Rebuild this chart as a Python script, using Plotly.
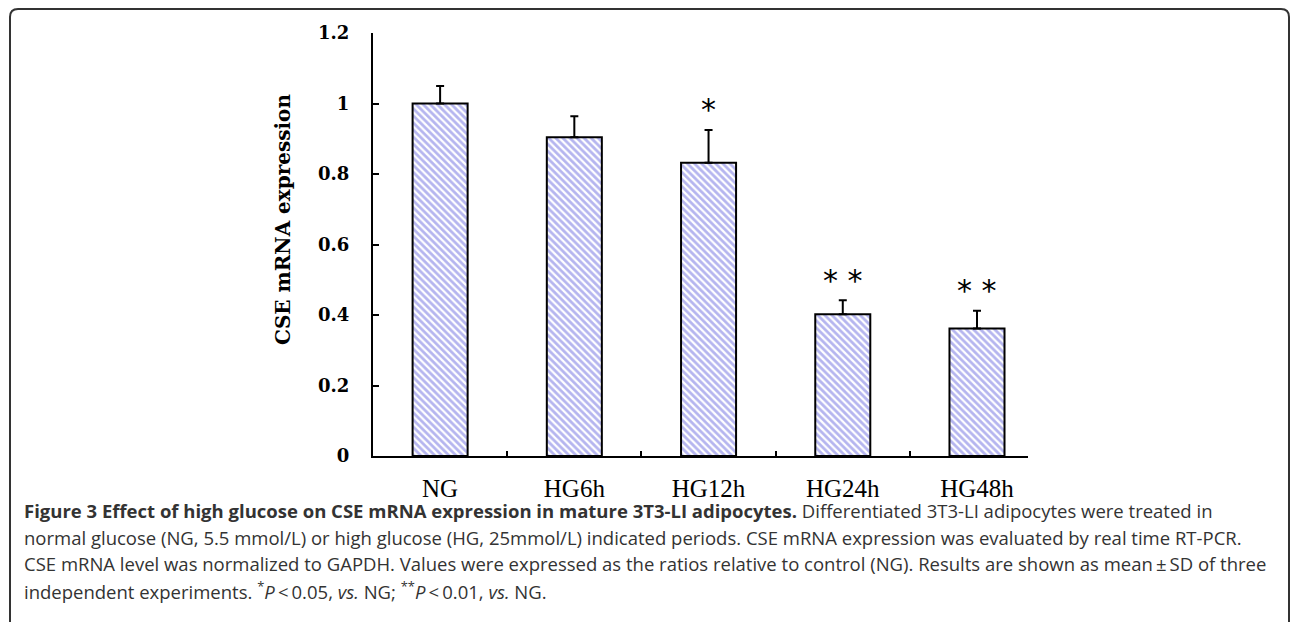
import plotly.graph_objects as go

# ---- data ----
categories = ["NG", "HG6h", "HG12h", "HG24h", "HG48h"]
values = [1.0, 0.904, 0.832, 0.402, 0.362]
errors = [0.05, 0.06, 0.093, 0.04, 0.05]
stars = ["", "", "*", "* *", "* *"]
y_ticks = [0, 0.2, 0.4, 0.6, 0.8, 1.0, 1.2]
y_title = "CSE mRNA expression"
caption_lines = [
    "<b>Figure 3 Effect of high glucose on CSE mRNA expression in mature 3T3-LI adipocytes.</b> Differentiated 3T3-LI adipocytes were treated in",
    "normal glucose (NG, 5.5 mmol/L) or high glucose (HG, 25mmol/L) indicated periods. CSE mRNA expression was evaluated by real time RT-PCR.",
    "CSE mRNA level was normalized to GAPDH. Values were expressed as the ratios relative to control (NG). Results are shown as mean\u2009\u00b1\u2009SD of three",
    "independent experiments. <sup>*</sup><i>P</i>\u2009&lt;\u20090.05, <i>vs.</i> NG; <sup>**</sup><i>P</i>\u2009&lt;\u20090.01, <i>vs.</i> NG.",
]

# ---- layout geometry (pixels) ----
W, H = 1290, 622
PL, PR, PT, PB = 373, 1028, 33, 456


def px(x):
    return (x - PL) / (PR - PL)


def py(y):
    return (PB - y) / (PB - PT)


fig = go.Figure()
fig.add_trace(go.Bar(
    x=categories,
    y=values,
    width=0.41,
    marker=dict(
        color="white",
        line=dict(color="black", width=2),
        pattern=dict(shape="\\", fgcolor="#6c6ce0", bgcolor="white", size=5, solidity=0.55),
    ),
    error_y=dict(
        type="data", symmetric=False, array=errors, arrayminus=[0] * len(errors),
        color="black", thickness=2, width=4,
    ),
    showlegend=False,
))

annotations = []
for c, v, e, s in zip(categories, values, errors, stars):
    if s:
        annotations.append(dict(
            x=c, y=v + e, xref="x", yref="y", text=s, showarrow=False,
            yshift=20, yanchor="middle",
            font=dict(family="DejaVu Sans", size=30, color="black"),
        ))

annotations.append(dict(
    x=px(283), y=py(220), xref="paper", yref="paper", text=f"<b>{y_title}</b>",
    textangle=-90, showarrow=False, xanchor="center", yanchor="middle",
    font=dict(family="DejaVu Serif", size=20, color="black"),
))

cap_y = [510, 537, 563, 590]
for line, yy in zip(caption_lines, cap_y):
    annotations.append(dict(
        x=px(22), y=py(yy), xref="paper", yref="paper", text=line,
        showarrow=False, xanchor="left", yanchor="middle", align="left",
        font=dict(family="Open Sans", size=18.5, color="#333333"),
    ))

# rounded border
r = 8
x0, x1, y0, y1 = 10, 1289, 9, 640
path = (
    f"M {px(x0)} {py(y1)} L {px(x0)} {py(y0 + r)} "
    f"Q {px(x0)} {py(y0)} {px(x0 + r)} {py(y0)} "
    f"L {px(x1 - r)} {py(y0)} "
    f"Q {px(x1)} {py(y0)} {px(x1)} {py(y0 + r)} "
    f"L {px(x1)} {py(y1)}"
)

fig.update_layout(
    width=W, height=H,
    margin=dict(l=PL, r=W - PR, t=PT, b=H - PB, pad=0),
    plot_bgcolor="white", paper_bgcolor="white",
    annotations=annotations,
    shapes=[dict(type="path", path=path, xref="paper", yref="paper",
                 line=dict(color="#333333", width=2))],
    xaxis=dict(
        range=[-0.5, 4.38], showline=True, linecolor="black", linewidth=2,
        ticks="inside", tickson="boundaries", ticklen=5, tickwidth=2, tickcolor="black",
        showgrid=False, zeroline=False,
        tickfont=dict(family="Liberation Serif", size=25, color="black"),
        ticklabelstandoff=9,
    ),
    yaxis=dict(
        range=[0, 1.2], tickvals=y_ticks, showline=True, linecolor="black", linewidth=2,
        ticks="inside", ticklen=6, tickwidth=2, tickcolor="black",
        showgrid=False, zeroline=False,
        tickfont=dict(family="DejaVu Serif", size=18, color="black", weight="bold"),
        ticklabelstandoff=18,
    ),
)

fig.write_html("out.html", config={"displayModeBar": False},
               post_script="document.body.style.margin='0';")
